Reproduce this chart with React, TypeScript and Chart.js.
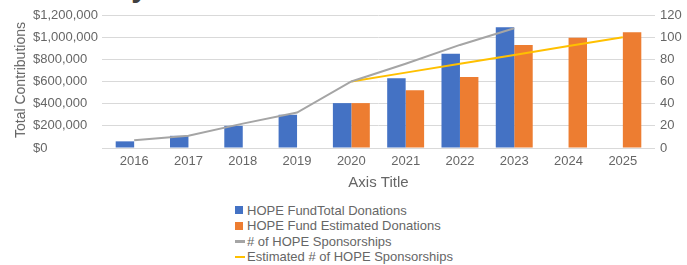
import React, { useEffect, useRef } from "react";
import { Chart, registerables } from "chart.js";

Chart.register(...registerables);

const years = ["2016", "2017", "2018", "2019", "2020", "2021", "2022", "2023", "2024", "2025"];
const totalDonations = [60000, 110000, 200000, 300000, 405000, 630000, 850000, 1090000, null, null];
const estimatedDonations = [null, null, null, null, 405000, 520000, 640000, 930000, 995000, 1045000];
const sponsorships = [7, 11, 22, 32, 60, 76, 93, 108, null, null];
const estimatedSponsorships = [null, null, null, null, 60, 68, 76, 84, 92, 100];

const seriesNames = [
  "HOPE FundTotal Donations",
  "HOPE Fund Estimated Donations",
  "# of HOPE Sponsorships",
  "Estimated # of HOPE Sponsorships",
];
const seriesColors = ["#4472c4", "#ed7d31", "#a5a5a5", "#ffc000"];
const seriesKinds = ["bar", "bar", "line", "line"];

const leftMax = 1200000;
const leftStep = 200000;
const rightMax = 120;
const rightStep = 20;
const xAxisTitle = "Axis Title";
const yAxisTitle = "Total Contributions";
const titleFragment = "by 2025";

const FONT = "'Liberation Sans', Arial, sans-serif";
const TEXT = "#666666";
const GRID = "#d9d9d9";

export default function App() {
  const canvasRef = useRef<HTMLCanvasElement | null>(null);

  useEffect(() => {
    if (!canvasRef.current) return;
    Chart.defaults.font.family = FONT;
    const chart = new Chart(canvasRef.current, {
      type: "bar",
      data: {
        labels: years,
        datasets: [
          {
            type: "bar",
            label: seriesNames[0],
            data: totalDonations,
            backgroundColor: seriesColors[0],
            yAxisID: "y",
            order: 2,
            categoryPercentage: 0.68,
            barPercentage: 1,
          },
          {
            type: "bar",
            label: seriesNames[1],
            data: estimatedDonations,
            backgroundColor: seriesColors[1],
            yAxisID: "y",
            order: 2,
            categoryPercentage: 0.68,
            barPercentage: 1,
          },
          {
            type: "line",
            label: seriesNames[2],
            data: sponsorships,
            borderColor: seriesColors[2],
            backgroundColor: seriesColors[2],
            borderWidth: 2,
            pointRadius: 0,
            tension: 0,
            yAxisID: "y1",
            order: 1,
          },
          {
            type: "line",
            label: seriesNames[3],
            data: estimatedSponsorships,
            borderColor: seriesColors[3],
            backgroundColor: seriesColors[3],
            borderWidth: 2,
            pointRadius: 0,
            tension: 0,
            yAxisID: "y1",
            order: 1,
          },
        ],
      } as any,
      options: {
        animation: false,
        responsive: false,
        maintainAspectRatio: false,
        layout: { padding: { top: 15, left: 33, right: 0, bottom: 0 } },
        plugins: { legend: { display: false }, tooltip: { enabled: false }, title: { display: false } },
        scales: {
          x: {
            grid: { display: false, drawTicks: false },
            border: { display: true, color: GRID },
            ticks: { color: TEXT, font: { size: 13 }, padding: 6, maxRotation: 0, autoSkip: false },
            title: {
              display: true,
              text: xAxisTitle,
              color: TEXT,
              font: { size: 15 },
              padding: { top: 0, bottom: 8 },
            },
            afterFit: (s: any) => {
              s.height = 52;
            },
          },
          y: {
            position: "left",
            min: 0,
            max: leftMax,
            ticks: {
              stepSize: leftStep,
              color: TEXT,
              font: { size: 13 },
              crossAlign: "far",
              padding: 4,
              callback: (v: any) => "$" + Number(v).toLocaleString("en-US"),
            },
            grid: { color: GRID, drawTicks: true, tickLength: 5 },
            border: { display: false },
            afterFit: (s: any) => {
              s.width = 74;
            },
          },
          y1: {
            position: "right",
            min: 0,
            max: rightMax,
            ticks: { stepSize: rightStep, color: TEXT, font: { size: 13 }, padding: 5 },
            grid: { drawOnChartArea: false, color: GRID, drawTicks: true, tickLength: 5 },
            border: { display: false },
            afterFit: (s: any) => {
              s.width = 37;
            },
          },
        },
      } as any,
    });
    return () => chart.destroy();
  }, []);

  return (
    <div
      style={{
        position: "absolute",
        left: 0,
        top: 0,
        width: 687,
        height: 265,
        overflow: "hidden",
        background: "#ffffff",
        fontFamily: FONT,
      }}
    >
      <div
        style={{
          position: "absolute",
          left: 113,
          top: -28,
          fontSize: 30,
          lineHeight: "30px",
          fontWeight: "bold",
          color: "#404040",
          whiteSpace: "nowrap",
        }}
      >
        {titleFragment}
      </div>
      <canvas
        ref={canvasRef}
        width={687}
        height={200}
        style={{ position: "absolute", left: 0, top: 0, width: 687, height: 200 }}
      />
      <div
        style={{
          position: "absolute",
          left: 20,
          top: 80,
          transform: "translate(-50%, -50%) rotate(-90deg)",
          fontSize: 14,
          color: TEXT,
          whiteSpace: "nowrap",
        }}
      >
        {yAxisTitle}
      </div>
      <div style={{ position: "absolute", left: 235, top: 202.5 }}>
        {seriesNames.map((name, i) => (
          <div
            key={name}
            style={{ display: "flex", alignItems: "center", height: 15.5, fontSize: 13, color: TEXT, whiteSpace: "nowrap" }}
          >
            {seriesKinds[i] === "bar" ? (
              <span style={{ display: "inline-block", width: 8, height: 8, background: seriesColors[i], marginRight: 4 }} />
            ) : (
              <span style={{ display: "inline-block", width: 10, height: 2.5, background: seriesColors[i], marginRight: 2 }} />
            )}
            <span>{name}</span>
          </div>
        ))}
      </div>
    </div>
  );
}
